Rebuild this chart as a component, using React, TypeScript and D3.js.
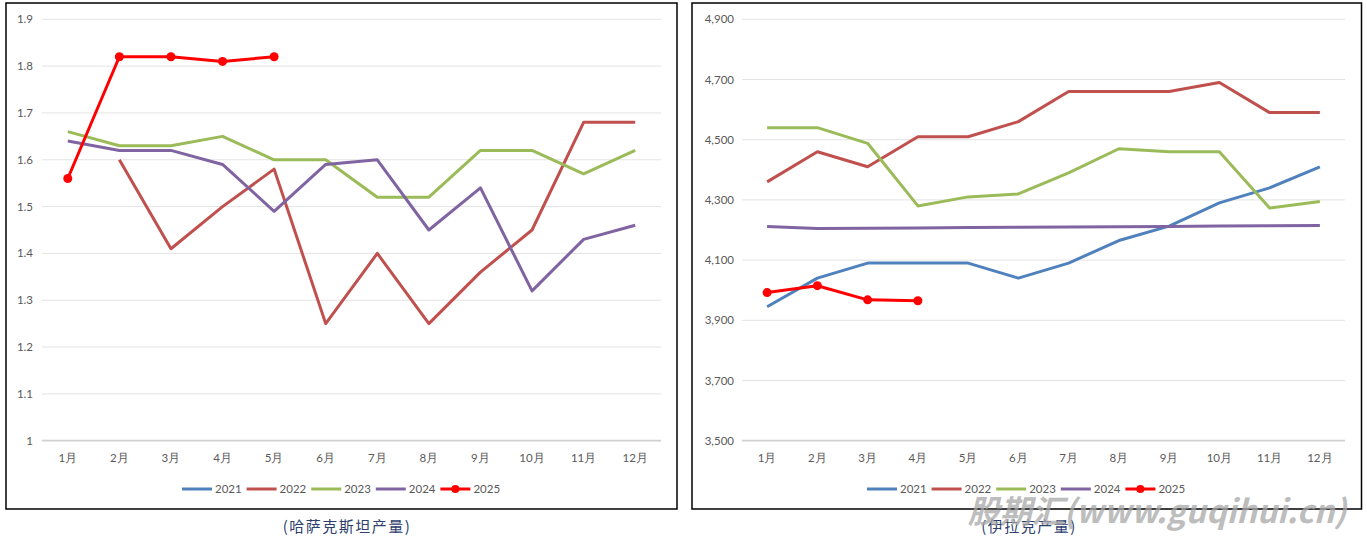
import React from "react";
import * as d3 from "d3";

const months = ["1月", "2月", "3月", "4月", "5月", "6月", "7月", "8月", "9月", "10月", "11月", "12月"];
const seriesNames = ["2021", "2022", "2023", "2024", "2025"];
const seriesColors = ["#4F81BD", "#C0504D", "#9BBB59", "#8064A2", "#FF0000"];

// Kazakhstan (left)
const kz2021: (number | null)[] = [null, null, null, null, null, null, null, null, null, null, null, null];
const kz2022: (number | null)[] = [null, 1.6, 1.41, 1.5, 1.58, 1.25, 1.4, 1.25, 1.36, 1.45, 1.68, 1.68];
const kz2023: (number | null)[] = [1.66, 1.63, 1.63, 1.65, 1.6, 1.6, 1.52, 1.52, 1.62, 1.62, 1.57, 1.62];
const kz2024: (number | null)[] = [1.64, 1.62, 1.62, 1.59, 1.49, 1.59, 1.6, 1.45, 1.54, 1.32, 1.43, 1.46];
const kz2025: (number | null)[] = [1.56, 1.82, 1.82, 1.81, 1.82, null, null, null, null, null, null, null];
const kzTicks = [1, 1.1, 1.2, 1.3, 1.4, 1.5, 1.6, 1.7, 1.8, 1.9];

// Iraq (right)
const iq2021: (number | null)[] = [3945, 4040, 4090, 4090, 4090, 4040, 4090, 4165, 4213, 4290, 4340, 4410];
const iq2022: (number | null)[] = [4360, 4460, 4410, 4510, 4510, 4560, 4660, 4660, 4660, 4690, 4590, 4590];
const iq2023: (number | null)[] = [4540, 4540, 4488, 4280, 4310, 4320, 4390, 4470, 4460, 4460, 4273, 4295];
const iq2024: (number | null)[] = [4212, 4205, 4206, 4207, 4208, 4209, 4210, 4211, 4212, 4213, 4214, 4215];
const iq2025: (number | null)[] = [3992, 4015, 3968, 3965, null, null, null, null, null, null, null, null];
const iqTicks = [3500, 3700, 3900, 4100, 4300, 4500, 4700, 4900];

const FONT = "Lato, 'Open Sans', sans-serif";

type PanelProps = {
  box: [number, number, number, number];
  plotX: [number, number];
  plotY: [number, number];
  domain: [number, number];
  ticks: number[];
  fmt: (v: number) => string;
  labelX: number;
  data: (number | null)[][];
  legendX: number;
};

function Panel(p: PanelProps) {
  const x = d3.scaleBand<string>().domain(months).range(p.plotX);
  const y = d3.scaleLinear().domain(p.domain).range(p.plotY);
  const cx = (m: string) => (x(m) as number) + x.bandwidth() / 2;
  const line = d3
    .line<number | null>()
    .defined((d) => d !== null)
    .x((_, i) => cx(months[i]))
    .y((d) => y(d as number));
  const [bx, by, bw, bh] = p.box;
  return (
    <g>
      <rect x={bx} y={by} width={bw} height={bh} fill="#fff" stroke="#000" strokeWidth={1.5} />
      {p.ticks.map((t, i) => (
        <g key={t}>
          <line
            x1={p.plotX[0]}
            x2={p.plotX[1]}
            y1={y(t)}
            y2={y(t)}
            stroke={i === 0 ? "#D0D0D0" : "#E3E3E3"}
            strokeWidth={i === 0 ? 1.8 : 1}
          />
          <text x={p.labelX} y={y(t)} dy="0.35em" textAnchor="end" fontSize={11.5} fill="#595959" fontFamily={FONT}>
            {p.fmt(t)}
          </text>
        </g>
      ))}
      {months.map((m) => (
        <text key={m} x={cx(m)} y={462} textAnchor="middle" fontSize={11.5} fill="#595959" fontFamily={FONT}>
          {m}
        </text>
      ))}
      {p.data.map((s, si) => (
        <path
          key={si}
          d={line(s) || ""}
          fill="none"
          stroke={seriesColors[si]}
          strokeWidth={3}
          strokeLinejoin="round"
        />
      ))}
      {p.data[4].map((v, i) =>
        v === null ? null : <circle key={i} cx={cx(months[i])} cy={y(v)} r={4.5} fill="#FF0000" />
      )}
      {seriesNames.map((n, i) => {
        const lx = p.legendX + i * 64.6;
        return (
          <g key={n}>
            <line x1={lx} x2={lx + 30} y1={489} y2={489} stroke={seriesColors[i]} strokeWidth={3} />
            {i === 4 && <circle cx={lx + 15} cy={489} r={4} fill="#FF0000" />}
            <text x={lx + 33} y={489} dy="0.35em" fontSize={11.5} fill="#595959" fontFamily={FONT}>
              {n}
            </text>
          </g>
        );
      })}
    </g>
  );
}

export default function App() {
  return (
    <svg
      width={1367}
      height={540}
      style={{ position: "absolute", left: 0, top: 0, background: "#fff" }}
    >
      <rect x={0} y={0} width={1367} height={540} fill="#fff" />
      <Panel
        box={[6, 3, 671, 506]}
        plotX={[42, 661]}
        plotY={[440.7, 19.3]}
        domain={[1, 1.9]}
        ticks={kzTicks}
        fmt={(v) => d3.format("~g")(v)}
        labelX={33}
        data={[kz2021, kz2022, kz2023, kz2024, kz2025]}
        legendX={182}
      />
      <Panel
        box={[692, 3, 669.5, 506]}
        plotX={[742, 1345]}
        plotY={[440.7, 19.3]}
        domain={[3500, 4900]}
        ticks={iqTicks}
        fmt={(v) => d3.format(",")(v)}
        labelX={734}
        data={[iq2021, iq2022, iq2023, iq2024, iq2025]}
        legendX={867}
      />
      <text
        x={347}
        y={532}
        textAnchor="middle"
        fontSize={15}
        letterSpacing={1.5}
        fill="#2E3F6E"
        fontFamily="'Noto Sans CJK SC', sans-serif"
      >
        (哈萨克斯坦产量)
      </text>
      <text
        x={1029}
        y={532}
        textAnchor="middle"
        fontSize={15}
        letterSpacing={1.5}
        fill="#2E3F6E"
        fontFamily="'Noto Sans CJK SC', sans-serif"
      >
        (伊拉克产量)
      </text>
      <text
        x={1157}
        y={523}
        textAnchor="middle"
        fontSize={32}
        fontWeight="bold"
        fontStyle="italic"
        fill="#A8A8A8"
        opacity={0.75}
        fontFamily="'Noto Sans CJK SC', 'DejaVu Sans', sans-serif"
      >
        股期汇(www.guqihui.cn)
      </text>
    </svg>
  );
}
